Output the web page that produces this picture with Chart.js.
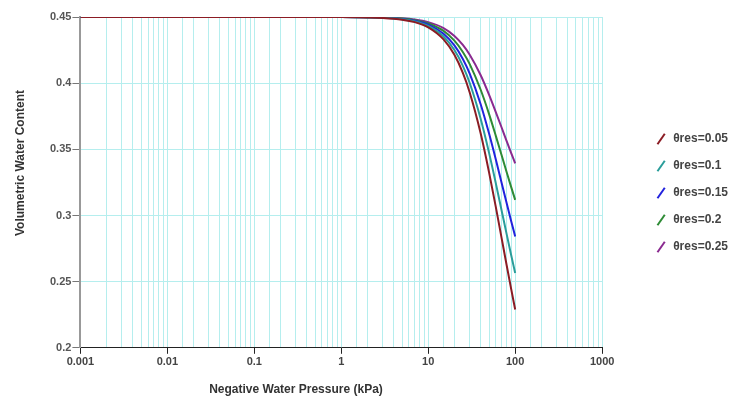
<!DOCTYPE html>
<html>
<head>
<meta charset="utf-8">
<script src="https://cdn.jsdelivr.net/npm/chart.js@4.4.1/dist/chart.umd.min.js"></script>
<style>
  body { margin: 0; background: #fff; }
  #wrap { width: 734px; height: 401px; }
</style>
</head>
<body>
<div id="wrap"><canvas id="myChart"></canvas></div>
<script>
// negative water pressure (kPa)
const pressure = [0.001, 0.01, 0.1, 1, 2, 3, 5, 7, 10, 15, 20, 25, 30, 40, 50, 60, 70, 80, 90, 100];

// volumetric water content for each residual value
const res005 = [0.45, 0.45, 0.45, 0.45, 0.4497, 0.4493, 0.4480, 0.4461, 0.4422, 0.4331, 0.4214, 0.4078, 0.3930, 0.3623, 0.3328, 0.3061, 0.2825, 0.2620, 0.2443, 0.2289];
const res010 = [0.45, 0.45, 0.45, 0.45, 0.4497, 0.4494, 0.4483, 0.4466, 0.4432, 0.4352, 0.4250, 0.4131, 0.4001, 0.3733, 0.3475, 0.3241, 0.3034, 0.2855, 0.2700, 0.2565];
const res015 = [0.45, 0.45, 0.45, 0.45, 0.4498, 0.4495, 0.4485, 0.4471, 0.4442, 0.4373, 0.4285, 0.4183, 0.4072, 0.3843, 0.3621, 0.3421, 0.3244, 0.3090, 0.2957, 0.2842];
const res020 = [0.45, 0.45, 0.45, 0.45, 0.4498, 0.4496, 0.4488, 0.4476, 0.4451, 0.4395, 0.4321, 0.4236, 0.4144, 0.3952, 0.3768, 0.3600, 0.3453, 0.3325, 0.3214, 0.3118];
const res025 = [0.45, 0.45, 0.45, 0.45, 0.4498, 0.4496, 0.4490, 0.4481, 0.4461, 0.4416, 0.4357, 0.4289, 0.4215, 0.4062, 0.3914, 0.3780, 0.3663, 0.3560, 0.3471, 0.3394];

const seriesNames = ["θres=0.05", "θres=0.1", "θres=0.15", "θres=0.2", "θres=0.25"];
const seriesColors = ["#8b1c24", "#2a9d9a", "#2222dd", "#2e8b35", "#8a2a90"];
const yTicks = [0.2, 0.25, 0.3, 0.35, 0.4, 0.45];
const xTitle = "Negative Water Pressure (kPa)";
const yTitle = "Volumetric Water Content";

const toPoints = (vals) => vals.map((v, i) => ({ x: pressure[i], y: v }));

const allSeries = [res005, res010, res015, res020, res025];

const datasets = allSeries.map((vals, i) => ({
  label: seriesNames[i],
  data: toPoints(vals),
  borderColor: seriesColors[i],
  backgroundColor: seriesColors[i],
  borderWidth: 2,
  pointRadius: 0,
  pointStyle: "line",
  pointRotation: -55,
  cubicInterpolationMode: "monotone",
  fill: false
}));

const isDecade = (v) => {
  const l = Math.log10(v);
  return Math.abs(l - Math.round(l)) < 1e-6;
};

const gridCyan = "#b5eeee";
const fontFam = "Arial, 'Liberation Sans', sans-serif";
const tickFont = { family: fontFam, size: 11, weight: "bold" };

// nudge the legend: gap from the plot, and a bit higher up
const legendShift = {
  id: "legendShift",
  afterLayout(chart) {
    const lg = chart.legend;
    lg.left += 38; lg.right += 38;
    lg.top -= 1; lg.bottom -= 1;
  }
};

// axis titles sit off-centre in the original, so draw them by hand
const axisTitles = {
  id: "axisTitles",
  afterDraw(chart) {
    const ctx = chart.ctx;
    ctx.save();
    ctx.fillStyle = "#333";
    ctx.font = "bold 12px " + fontFam;
    ctx.textAlign = "center";
    ctx.textBaseline = "middle";
    ctx.fillText(xTitle, 296, 390);
    ctx.translate(21, 163);
    ctx.rotate(-Math.PI / 2);
    ctx.fillText(yTitle, 0, 0);
    ctx.restore();
  }
};

new Chart("myChart", {
  type: "line",
  data: { datasets: datasets },
  plugins: [legendShift, axisTitles],
  options: {
    responsive: true,
    maintainAspectRatio: false,
    animation: false,
    layout: { padding: { top: 17, left: 49, right: 34, bottom: 30 } },
    plugins: {
      tooltip: { enabled: false },
      legend: {
        position: "right",
        labels: {
          usePointStyle: true,
          boxWidth: 12,
          boxHeight: 9,
          padding: 15,
          color: "#444",
          font: { family: fontFam, size: 12, weight: "bold" }
        }
      }
    },
    scales: {
      x: {
        type: "logarithmic",
        min: 0.001,
        max: 1000,
        border: { color: "#222", width: 1 },
        grid: {
          color: gridCyan,
          lineWidth: 1,
          tickLength: 6,
          tickColor: (ctx) => (ctx.tick && isDecade(ctx.tick.value) ? "#222" : "rgba(0,0,0,0)")
        },
        ticks: {
          autoSkip: false,
          maxRotation: 0,
          color: "#444",
          padding: 2,
          font: tickFont,
          callback: (v) => (isDecade(v) ? String(Number(v.toPrecision(1))) : "")
        }
      },
      y: {
        min: 0.2,
        max: 0.45,
        afterBuildTicks: (axis) => { axis.ticks = yTicks.map((v) => ({ value: v })); },
        border: { color: "#999", width: 2 },
        grid: {
          color: gridCyan,
          lineWidth: 1,
          tickLength: 8,
          tickColor: "#777"
        },
        ticks: {
          color: "#555",
          padding: 1,
          font: tickFont,
          callback: (v) => String(Number(v.toFixed(2)))
        }
      }
    }
  }
});
</script>
</body>
</html>
